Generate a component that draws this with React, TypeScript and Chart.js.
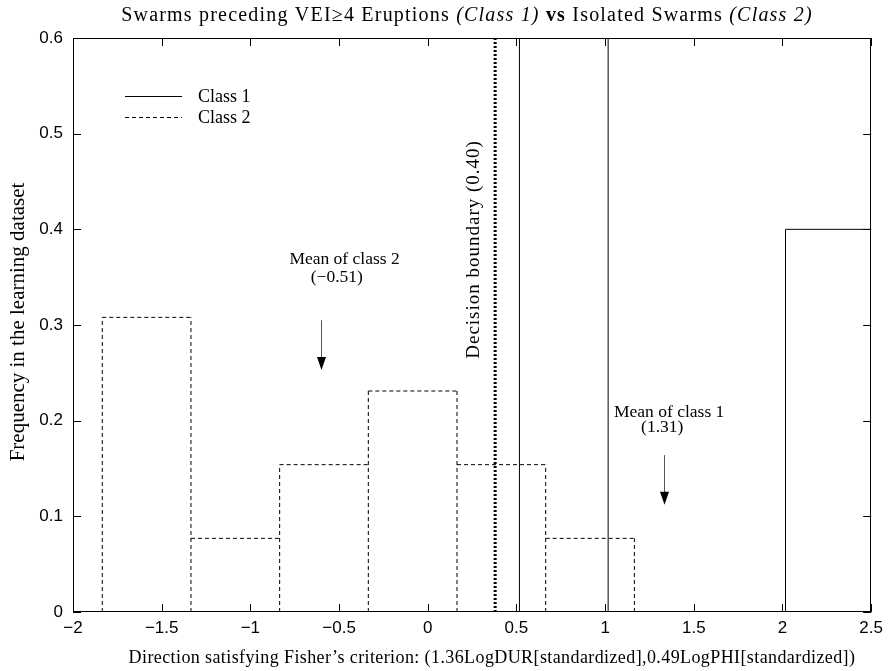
import React, { useEffect, useRef } from 'react';
import { Chart, registerables } from 'chart.js';

Chart.register(...registerables);

// ---- data ----
const binWidth = 0.5;
const class2BinStarts = [-1.835, -1.335, -0.835, -0.335, 0.165, 0.665];
const class2Freq = [0.308, 0.077, 0.154, 0.231, 0.154, 0.077];
const class1BinStarts = [0.517, 1.017, 1.517, 2.017];
const class1Freq = [0.6, 0, 0, 0.4];
const decisionBoundaryX = 0.38;
const decisionLabel = 'Decision boundary (0.40)';
const meanClass2ArrowX = -0.6;
const meanClass1ArrowX = 1.333;
const meanClass2Label = ['Mean of class 2', '(\u22120.51)'];
const meanClass1Label = ['Mean of class 1', '(1.31)'];
const legendLabels = ['Class 1', 'Class 2'];
const xMin = -2;
const xMax = 2.5;
const xStep = 0.5;
const yMin = 0;
const yMax = 0.6;
const yStep = 0.1;
const xTickValues = [-2, -1.5, -1, -0.5, 0, 0.5, 1, 1.5, 2, 2.5];
const yTickValues = [0, 0.1, 0.2, 0.3, 0.4, 0.5, 0.6];
const xTitle = 'Direction satisfying Fisher\u2019s criterion: (1.36LogDUR[standardized],0.49LogPHI[standardized])';
const yTitle = 'Frequency in the learning dataset';

type Pt = { x: number; y: number | null };

function histSegments(starts: number[], freqs: number[], w: number): Pt[] {
  const pts: Pt[] = [];
  const n = starts.length;
  for (let i = 0; i <= n; i++) {
    const x = i < n ? starts[i] : starts[n - 1] + w;
    const left = i > 0 ? freqs[i - 1] : 0;
    const right = i < n ? freqs[i] : 0;
    const h = Math.max(left, right);
    if (h > 0) pts.push({ x, y: 0 }, { x, y: h }, { x, y: null });
  }
  for (let i = 0; i < n; i++) {
    if (freqs[i] > 0) {
      pts.push({ x: starts[i], y: freqs[i] }, { x: starts[i] + w, y: freqs[i] }, { x: starts[i] + w, y: null });
    }
  }
  return pts;
}

const SERIF = '"Liberation Serif", "Times New Roman", serif';
const SANS = '"Liberation Sans", Arial, sans-serif';

const fmt = (v: number) => {
  const s = String(Number(v.toFixed(2)));
  return s.replace('-', '\u2212');
};

const decorPlugin = {
  id: 'decor',
  afterDraw(chart: any) {
    const { ctx, chartArea: ca, scales } = chart;
    const xs = scales.x;
    const ys = scales.y;
    const px = (v: number) => xs.getPixelForValue(v);
    const py = (v: number) => ys.getPixelForValue(v);
    ctx.save();
    // frame
    ctx.strokeStyle = '#000';
    ctx.lineWidth = 1;
    ctx.setLineDash([]);
    ctx.strokeRect(Math.round(ca.left) + 0.5, Math.round(ca.top) + 0.5, Math.round(ca.right - ca.left) - 1, Math.round(ca.bottom - ca.top) - 1);
    // inward ticks
    const tl = 8;
    ctx.beginPath();
    xTickValues.forEach((v) => {
      const x = Math.round(px(v)) + 0.5;
      ctx.moveTo(x, ca.bottom);
      ctx.lineTo(x, ca.bottom - tl);
      ctx.moveTo(x, ca.top);
      ctx.lineTo(x, ca.top + tl);
    });
    yTickValues.forEach((v) => {
      const y = Math.round(py(v)) + 0.5;
      ctx.moveTo(ca.left, y);
      ctx.lineTo(ca.left + tl, y);
      ctx.moveTo(ca.right, y);
      ctx.lineTo(ca.right - tl, y);
    });
    ctx.stroke();

    // title (rich text)
    const tsize = 20;
    const parts: [string, string][] = [
      ['Swarms preceding VEI\u22654 Eruptions ', 'normal'],
      ['(Class 1)', 'italic'],
      [' ', 'normal'],
      ['vs', 'bold'],
      [' Isolated Swarms ', 'normal'],
      ['(Class 2)', 'italic'],
    ];
    const fontFor = (st: string) =>
      st === 'italic' ? `italic ${tsize}px ${SERIF}` : st === 'bold' ? `bold ${tsize}px ${SERIF}` : `${tsize}px ${SERIF}`;
    ctx.letterSpacing = '1.2px';
    let total = 0;
    parts.forEach(([t, st]) => {
      ctx.font = fontFor(st);
      total += ctx.measureText(t).width;
    });
    let tx = 467 - total / 2;
    ctx.fillStyle = '#000';
    ctx.textBaseline = 'alphabetic';
    ctx.textAlign = 'left';
    parts.forEach(([t, st]) => {
      ctx.font = fontFor(st);
      ctx.fillText(t, tx, 21);
      tx += ctx.measureText(t).width;
    });
    ctx.letterSpacing = '0px';

    // axis titles
    ctx.textAlign = 'center';
    ctx.textBaseline = 'middle';
    ctx.font = `18px ${SERIF}`;
    ctx.letterSpacing = '0.4px';
    ctx.fillText(xTitle, 492, 658);
    ctx.letterSpacing = '0px';
    ctx.save();
    ctx.translate(18, 322);
    ctx.rotate(-Math.PI / 2);
    ctx.font = `21px ${SERIF}`;
    ctx.fillText(yTitle, 0, 0);
    ctx.restore();

    // legend
    const lx0 = ca.left + 52;
    const lx1 = ca.left + 109;
    const ly = [ca.top + 58, ca.top + 79];
    ctx.lineWidth = 1;
    ctx.beginPath();
    ctx.setLineDash([]);
    ctx.moveTo(lx0, ly[0] + 0.5);
    ctx.lineTo(lx1, ly[0] + 0.5);
    ctx.stroke();
    ctx.beginPath();
    ctx.setLineDash([4, 3]);
    ctx.moveTo(lx0, ly[1] + 0.5);
    ctx.lineTo(lx1, ly[1] + 0.5);
    ctx.stroke();
    ctx.setLineDash([]);
    ctx.textAlign = 'left';
    ctx.font = `18px ${SERIF}`;
    ctx.fillText(legendLabels[0], ca.left + 125, ly[0] + 1);
    ctx.fillText(legendLabels[1], ca.left + 125, ly[1] + 1);

    // mean annotations
    ctx.textAlign = 'center';
    ctx.font = `17.5px ${SERIF}`;
    ctx.fillText(meanClass2Label[0], px(-0.469), py(0.369));
    ctx.fillText(meanClass2Label[1], px(-0.513), py(0.35));
    ctx.fillText(meanClass1Label[0], px(1.361), py(0.209));
    ctx.fillText(meanClass1Label[1], px(1.322), py(0.193));

    const arrow = (xv: number, y0: number, y1: number) => {
      const x = Math.round(px(xv)) + 0.5;
      const ya = py(y0);
      const yb = py(y1);
      ctx.strokeStyle = '#555';
      ctx.lineWidth = 1;
      ctx.beginPath();
      ctx.moveTo(x, ya);
      ctx.lineTo(x, yb - 10);
      ctx.stroke();
      ctx.fillStyle = '#000';
      ctx.beginPath();
      ctx.moveTo(x - 4.5, yb - 13);
      ctx.lineTo(x + 4.5, yb - 13);
      ctx.lineTo(x, yb);
      ctx.closePath();
      ctx.fill();
    };
    arrow(meanClass2ArrowX, 0.305, 0.253);
    arrow(meanClass1ArrowX, 0.164, 0.112);

    // decision boundary label
    ctx.save();
    ctx.translate(px(0.263), py(0.379));
    ctx.rotate(-Math.PI / 2);
    ctx.font = `19px ${SERIF}`;
    ctx.letterSpacing = '1px';
    ctx.fillStyle = '#000';
    ctx.textAlign = 'center';
    ctx.textBaseline = 'middle';
    ctx.fillText(decisionLabel, 0, 0);
    ctx.letterSpacing = '0px';
    ctx.restore();

    ctx.restore();
  },
};

export default function App() {
  const ref = useRef<HTMLCanvasElement | null>(null);
  useEffect(() => {
    document.body.style.margin = '0';
    const canvas = ref.current;
    if (!canvas) return;
    const chart = new Chart(canvas, {
      type: 'scatter',
      data: {
        datasets: [
          {
            label: 'Class 1',
            data: histSegments(class1BinStarts, class1Freq, binWidth) as any,
            showLine: true,
            spanGaps: false,
            borderColor: '#000',
            borderWidth: 1,
            pointRadius: 0,
          },
          {
            label: 'Class 2',
            data: histSegments(class2BinStarts, class2Freq, binWidth) as any,
            showLine: true,
            spanGaps: false,
            borderColor: '#000',
            borderWidth: 1,
            borderDash: [4, 3],
            pointRadius: 0,
          },
          {
            label: 'Decision boundary',
            data: [
              { x: decisionBoundaryX, y: yMin },
              { x: decisionBoundaryX, y: yMax },
            ],
            showLine: true,
            borderColor: '#000',
            borderWidth: 3,
            borderDash: [2, 2],
            pointRadius: 0,
          },
        ],
      },
      options: {
        responsive: false,
        animation: false,
        devicePixelRatio: 1,
        layout: { padding: { left: 0, top: 38, right: 17, bottom: 0 } },
        plugins: { legend: { display: false }, tooltip: { enabled: false }, title: { display: false } },
        scales: {
          x: {
            type: 'linear',
            min: xMin,
            max: xMax,
            grid: { display: false, drawTicks: false },
            border: { display: false },
            ticks: {
              stepSize: xStep,
              padding: 6,
              color: '#000',
              font: { family: SANS, size: 17 },
              callback: (v: any) => fmt(Number(v)),
            },
            afterFit: (s: any) => {
              s.height = 59;
            },
          },
          y: {
            type: 'linear',
            min: yMin,
            max: yMax,
            grid: { display: false, drawTicks: false },
            border: { display: false },
            ticks: {
              stepSize: yStep,
              padding: 10,
              color: '#000',
              font: { family: SANS, size: 17 },
              callback: (v: any) => fmt(Number(v)),
            },
            afterFit: (s: any) => {
              s.width = 73;
            },
          },
        },
      },
      plugins: [decorPlugin],
    });
    return () => chart.destroy();
  }, []);
  return (
    <div style={{ position: 'absolute', left: 0, top: 0, width: 889, height: 671, background: '#fff' }}>
      <canvas ref={ref} width={889} height={671} style={{ display: 'block' }} />
    </div>
  );
}
